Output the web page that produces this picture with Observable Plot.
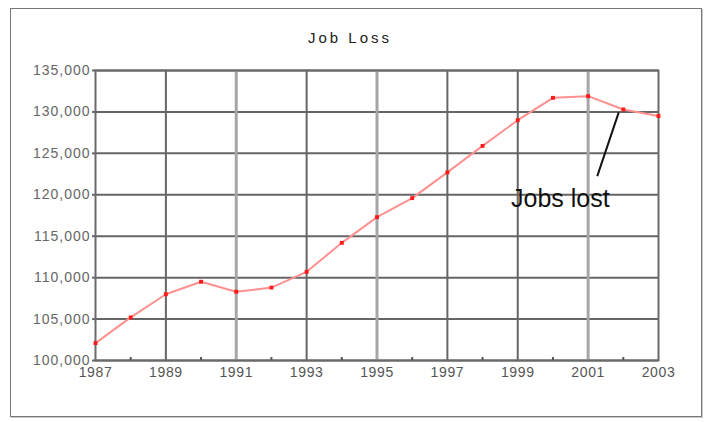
<!DOCTYPE html>
<html>
<head>
<meta charset="utf-8">
<script src="https://cdn.jsdelivr.net/npm/d3@7"></script>
<script src="https://cdn.jsdelivr.net/npm/@observablehq/plot@0.6"></script>
<style>
  html, body { margin: 0; padding: 0; background: #fff; }
  #wrap { position: relative; width: 716px; height: 422px; overflow: hidden; }
  #box { position: absolute; left: 10px; top: 8px; width: 692px; height: 409px; box-sizing: border-box; border: 1px solid #777; box-shadow: 1px 1px 0 #ccc; }
  #chart { position: absolute; left: 0; top: 0; }
  g[aria-label="y-axis tick label"] text { letter-spacing: 1px; }
  g[aria-label="x-axis tick label"] text { letter-spacing: 0.6px; }
</style>
</head>
<body>
<div id="wrap"><div id="box"></div><div id="chart"></div></div>
<script>
// Data
const years = [1987, 1988, 1989, 1990, 1991, 1992, 1993, 1994, 1995, 1996, 1997, 1998, 1999, 2000, 2001, 2002, 2003];
const jobs  = [102100, 105200, 108000, 109500, 108300, 108800, 110700, 114200, 117300, 119600, 122700, 125900, 129000, 131700, 131900, 130300, 129500];

const yTicks = [100000, 105000, 110000, 115000, 120000, 125000, 130000, 135000];
const xLabelYears = [1987, 1989, 1991, 1993, 1995, 1997, 1999, 2001, 2003];
const xDarkGrid = [1989, 1993, 1997, 1999];
const xLightGrid = [1991, 1995, 2001];
const xMinorYears = [1988, 1990, 1992, 1994, 1996, 1998, 2000, 2002];

const titleText = ["Job Loss"];
const annotationLabel = [{x: 2000.21, y: 119450, text: "Jobs lost"}];
const annotationLine = [{x1: 2001.87, y1: 129950, x2: 2001.26, y2: 122250}];

const data = years.map((year, i) => ({year, value: jobs[i]}));

const fmt = d3.format(",");
const font = "'Liberation Sans', Arial, sans-serif";

const chart = Plot.plot({
  width: 716,
  height: 422,
  marginLeft: 95,
  marginRight: 58,
  marginTop: 70,
  marginBottom: 62,
  style: {background: "transparent", fontFamily: font},
  x: {domain: [1987, 2003], axis: null},
  y: {domain: [100000, 135000], axis: null},
  marks: [
    Plot.gridY(yTicks, {stroke: "#666", strokeOpacity: 1, strokeWidth: 2}),
    Plot.gridX(xLightGrid, {stroke: "#a6a6a6", strokeOpacity: 1, strokeWidth: 3}),
    Plot.gridX(xDarkGrid, {stroke: "#666", strokeOpacity: 1, strokeWidth: 2}),
    Plot.frame({stroke: "#6a6a6a", strokeWidth: 2}),
    Plot.axisY(yTicks, {anchor: "left", tickSize: 3, tickPadding: 2, tickFormat: fmt, fontSize: 14, fill: "#666", stroke: "#666", strokeWidth: 2}),
    Plot.axisX(xLabelYears, {anchor: "bottom", tickSize: 0, tickPadding: 7, tickFormat: d => String(d), fontSize: 14, fill: "#555"}),
    Plot.axisX(xMinorYears, {anchor: "bottom", tickSize: 3, dy: -3, tickFormat: () => "", stroke: "#555", strokeWidth: 2}),
    Plot.line(data, {x: "year", y: "value", stroke: "#ff9090", strokeWidth: 2}),
    Plot.dot(data, {x: "year", y: "value", symbol: "square", r: 2.2, fill: "#ff1a1a", stroke: "none"}),
    Plot.link(annotationLine, {x1: "x1", y1: "y1", x2: "x2", y2: "y2", stroke: "#111", strokeWidth: 2}),
    Plot.text(annotationLabel, {x: "x", y: "y", text: "text", fontSize: 25, fill: "#111", textAnchor: "middle", fontFamily: font}),
    Plot.text(titleText, {frameAnchor: "top", dx: -27, dy: -38, fontSize: 15, fill: "#222"})
  ]
});

d3.select(chart).selectAll("text")
  .filter(function () { return this.textContent === titleText[0]; })
  .style("letter-spacing", "3px");

document.getElementById("chart").appendChild(chart);
</script>
</body>
</html>
